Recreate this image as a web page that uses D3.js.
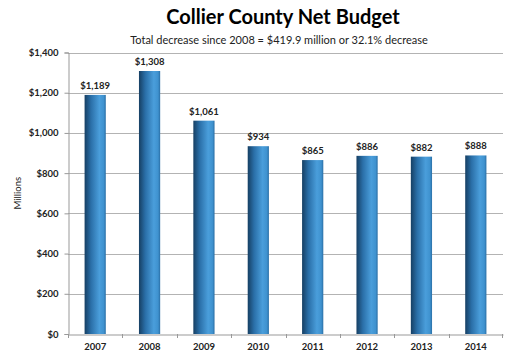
<!DOCTYPE html>
<html>
<head>
<meta charset="utf-8">
<script src="https://cdn.jsdelivr.net/npm/d3@7"></script>
<style>
  body { margin: 0; background: #fff; }
  text { font-family: Lato, "Open Sans", sans-serif; }
</style>
</head>
<body>
<script>
var years = ["2007", "2008", "2009", "2010", "2011", "2012", "2013", "2014"];
var budget = [1189, 1308, 1061, 934, 865, 886, 882, 888];
var yTicks = [0, 200, 400, 600, 800, 1000, 1200, 1400];

var width = 508, height = 355;
var margin = {top: 52.5, right: 5, bottom: 21, left: 68};

var svg = d3.select('body').append('svg')
        .attr('width', width)
        .attr('height', height);

// gradient for the cylinder-ish bars
var grad = svg.append('defs').append('linearGradient')
        .attr('id', 'barGrad')
        .attr('x1', '0%').attr('x2', '100%')
        .attr('y1', '0%').attr('y2', '0%');
grad.append('stop').attr('offset', '0%').attr('stop-color', '#163f63');
grad.append('stop').attr('offset', '30%').attr('stop-color', '#2a6fa8');
grad.append('stop').attr('offset', '70%').attr('stop-color', '#4a9edb');
grad.append('stop').attr('offset', '90%').attr('stop-color', '#3f92cf');
grad.append('stop').attr('offset', '100%').attr('stop-color', '#2a6fa6');

var x = d3.scaleBand()
        .domain(years)
        .range([margin.left, width - margin.right])
        .paddingInner(0.61)
        .paddingOuter(0.305);

var xOuter = d3.scaleBand()
        .domain(years)
        .range([margin.left, width - margin.right]);

var y = d3.scaleLinear()
        .domain([0, 1400])
        .range([height - margin.bottom, margin.top]);

// gridlines
svg.append('g').selectAll('line')
        .data(yTicks.slice(1))
        .enter().append('line')
        .attr('x1', margin.left)
        .attr('x2', width - margin.right)
        .attr('y1', function (d) { return Math.round(y(d)) + 0.5; })
        .attr('y2', function (d) { return Math.round(y(d)) + 0.5; })
        .style('stroke', '#b3b3b3')
        .style('stroke-width', 1);

// y axis
var yAxis = svg.append('g')
        .attr('transform', 'translate(' + (margin.left + 0.5) + ',0)')
        .call(d3.axisLeft(y).tickValues(yTicks).tickSize(4).tickPadding(6)
                .tickFormat(function (d) { return '$' + d3.format(',')(d); }));
yAxis.select('.domain').style('stroke', '#999');
yAxis.selectAll('.tick line').style('stroke', '#999');
yAxis.selectAll('text')
        .style('font-size', '9.5px')
        .style('font-weight', 'bold')
        .style('fill', '#222');

// x axis
var xAxis = svg.append('g')
        .attr('transform', 'translate(0,' + (Math.round(y(0)) + 0.5) + ')')
        .call(d3.axisBottom(xOuter).tickSize(0).tickPadding(9));
xAxis.select('.domain').style('stroke', '#999');
xAxis.selectAll('text')
        .style('font-size', '9.5px')
        .style('font-weight', 'bold')
        .style('fill', '#222');
// category separators
svg.append('g').selectAll('line')
        .data(years)
        .enter().append('line')
        .attr('x1', function (d) { return Math.round(xOuter(d)) + 0.5; })
        .attr('x2', function (d) { return Math.round(xOuter(d)) + 0.5; })
        .attr('y1', y(0))
        .attr('y2', y(0) + 4)
        .style('stroke', '#999');
svg.append('line')
        .attr('x1', width - margin.right - 0.5)
        .attr('x2', width - margin.right - 0.5)
        .attr('y1', y(0))
        .attr('y2', y(0) + 4)
        .style('stroke', '#999');

// bars
svg.append('g').selectAll('rect')
        .data(budget)
        .enter().append('rect')
        .attr('x', function (d, i) { return x(years[i]); })
        .attr('width', x.bandwidth())
        .attr('y', function (d) { return y(d); })
        .attr('height', function (d) { return y(0) - y(d); })
        .style('fill', 'url(#barGrad)');

// value labels
svg.append('g').selectAll('text')
        .data(budget)
        .enter().append('text')
        .attr('x', function (d, i) { return x(years[i]) + x.bandwidth() / 2; })
        .attr('y', function (d) { return y(d) - 6; })
        .attr('text-anchor', 'middle')
        .style('font-size', '9.5px')
        .style('font-weight', 'bold')
        .style('fill', '#222')
        .text(function (d) { return '$' + d3.format(',')(d); });

// titles
svg.append('text')
        .attr('x', 283)
        .attr('y', 24)
        .attr('text-anchor', 'middle')
        .style('font-size', '20px')
        .style('font-weight', 'bold')
        .style('fill', '#000')
        .text('Collier County Net Budget');
svg.append('text')
        .attr('x', 279)
        .attr('y', 44)
        .attr('text-anchor', 'middle')
        .style('font-size', '11px')
        .style('fill', '#222')
        .text('Total decrease since 2008 = $419.9  million or 32.1% decrease');

svg.append('text')
        .attr('transform', 'translate(21,' + (y(700)) + ') rotate(-90)')
        .attr('text-anchor', 'middle')
        .style('font-size', '9.5px')
        .style('fill', '#222')
        .text('Millions');
</script>
</body>
</html>
